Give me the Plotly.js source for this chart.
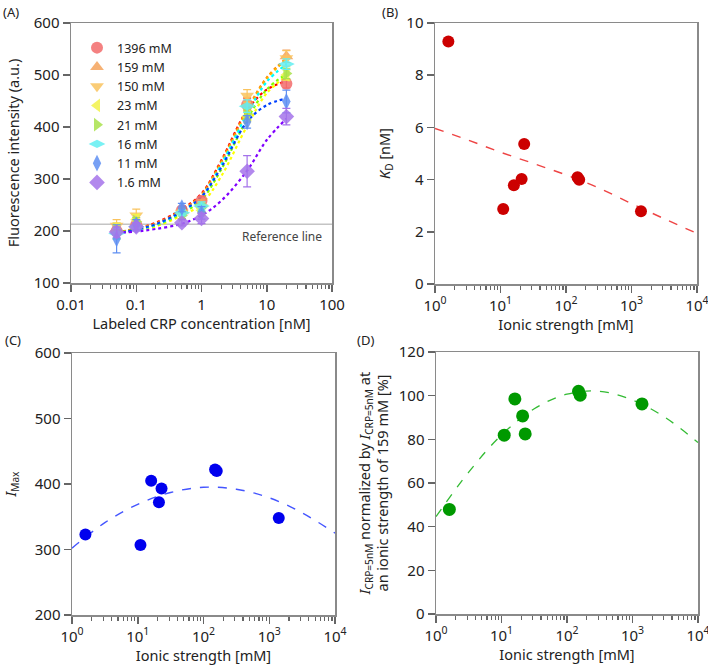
<!DOCTYPE html>
<html>
<head>
<meta charset="utf-8">
<script src="https://cdn.plot.ly/plotly-3.0.1.min.js"></script>
<style>html,body{margin:0;padding:0;background:#fff}#chart{width:708px;height:665px}</style>
</head>
<body>
<div id="chart"></div>
<script>
// ---------- Panel A data ----------
const conc = [0.05, 0.1, 0.5, 1, 5, 20];
const seriesNames = ['1396 mM', '159 mM', '150 mM', '23 mM', '21 mM', '16 mM', '11 mM', '1.6 mM'];
const fl1396 = [200, 212, 240, 258, 443, 483];
const fl159  = [205, 215, 238, 252, 445, 536];
const fl150  = [210, 230, 235, 245, 460, 532];
const fl23   = [200, 222, 232, 240, 420, 500];
const fl21   = [202, 218, 230, 245, 425, 503];
const fl16   = [195, 208, 235, 248, 440, 521];
const fl11   = [185, 212, 245, 235, 410, 449];
const fl1_6  = [198, 208, 216, 224, 315, 420];
const err1396 = [8, 6, 6, 8, 12, 8];
const err159  = [10, 8, 6, 8, 12, 12];
const err150  = [12, 12, 6, 10, 12, 15];
const err23   = [15, 10, 8, 10, 10, 10];
const err21   = [10, 8, 6, 8, 10, 10];
const err16   = [10, 8, 6, 8, 12, 10];
const err11   = [27, 10, 8, 12, 12, 22];
const err1_6  = [10, 8, 6, 10, 30, 16];
// fitted curves
const fitConc = [0.05, 0.1, 0.2, 0.5, 1, 2, 5, 10, 20];
const fit1396 = [197, 205, 216, 242, 272, 335, 432, 472, 488];
const fit159  = [196, 204, 214, 240, 270, 333, 433, 495, 532];
const fit150  = [196, 204, 214, 239, 268, 330, 430, 493, 530];
const fit23   = [196, 202, 209, 230, 252, 305, 402, 465, 498];
const fit21   = [196, 203, 211, 234, 260, 318, 415, 472, 502];
const fit16   = [195, 202, 212, 237, 266, 327, 425, 487, 521];
const fit11   = [195, 203, 213, 238, 266, 322, 410, 442, 455];
const fit1_6  = [196, 199, 204, 214, 230, 258, 316, 375, 416];
const refLevel = 213;

// ---------- Panels B, C, D data ----------
const ionic = [1.6, 11, 16, 21, 23, 150, 159, 1396];
const kd    = [9.29, 2.87, 3.78, 4.02, 5.36, 4.09, 3.99, 2.79];
const imax  = [323, 307, 405, 372, 393, 422, 420, 348];
const norm5 = [47.9, 81.9, 98.5, 90.7, 82.5, 102, 100.2, 96.2];
const fitIonic = [1, 3.16, 10, 31.6, 100, 316, 1000, 3162, 10000];
const kdFit    = [5.96, 5.52, 5.05, 4.62, 4.18, 3.68, 3.08, 2.5, 1.94];
const imaxFit  = [302, 341, 369, 387, 395, 392, 379, 356, 325];
const normFit  = [44.6, 65, 82, 94, 100.7, 102, 98, 90, 78.5];
// decade tick labels shown as powers of ten
const powerLabels = {'1': '10<sup>0</sup>', '10': '10<sup>1</sup>', '100': '10<sup>2</sup>', '1000': '10<sup>3</sup>', '10k': '10<sup>4</sup>'};

// ---------- styles ----------
const markerColors = ['#f26b6b', '#f5a35c', '#f9c35e', '#f2f24a', '#a9e24c', '#62eef2', '#5f8ff2', '#a473ea'];
const lineColors   = ['#ff0000', '#ff7f00', '#ffb000', '#ffff00', '#80ff00', '#00ffff', '#0040ff', '#8000ff'];
const symbols = ['circle', 'triangle-up', 'triangle-down', 'triangle-left', 'triangle-right', 'diamond-wide', 'diamond-tall', 'diamond'];
const flData = [fl1396, fl159, fl150, fl23, fl21, fl16, fl11, fl1_6];
const errData = [err1396, err159, err150, err23, err21, err16, err11, err1_6];
const fitData = [fit1396, fit159, fit150, fit23, fit21, fit16, fit11, fit1_6];

const FONT = 'Noto Sans, Open Sans, DejaVu Sans, sans-serif';
const AXC = '#666666';
const traces = [];
for (let i = 0; i < fitData.length; i++) {
  traces.push({x: fitConc, y: fitData[i], xaxis: 'x', yaxis: 'y', mode: 'lines', showlegend: false,
    line: {color: lineColors[i], width: 2.2, dash: 'dot', shape: 'spline'}, hoverinfo: 'skip'});
}
for (let i = 0; i < flData.length; i++) {
  traces.push({x: conc, y: flData[i], name: seriesNames[i], xaxis: 'x', yaxis: 'y', mode: 'markers',
    marker: {symbol: symbols[i], color: markerColors[i], size: 12, opacity: 0.85},
    error_y: {type: 'data', array: errData[i], color: markerColors[i], thickness: 1.2, width: 4}});
}
traces.push({x: fitIonic, y: kdFit, xaxis: 'x2', yaxis: 'y2', mode: 'lines', showlegend: false,
  line: {color: '#ee4444', width: 1.4, dash: 'dash', shape: 'spline'}});
traces.push({x: ionic, y: kd, xaxis: 'x2', yaxis: 'y2', mode: 'markers', showlegend: false,
  marker: {color: '#cc0000', size: 12}});
traces.push({x: fitIonic, y: imaxFit, xaxis: 'x3', yaxis: 'y3', mode: 'lines', showlegend: false,
  line: {color: '#4455ff', width: 1.4, dash: 'dash', shape: 'spline'}});
traces.push({x: ionic, y: imax, xaxis: 'x3', yaxis: 'y3', mode: 'markers', showlegend: false,
  marker: {color: '#0000ee', size: 12}});
traces.push({x: fitIonic, y: normFit, xaxis: 'x4', yaxis: 'y4', mode: 'lines', showlegend: false,
  line: {color: '#33bb33', width: 1.3, dash: 'dash', shape: 'spline'}});
traces.push({x: ionic, y: norm5, xaxis: 'x4', yaxis: 'y4', mode: 'markers', showlegend: false,
  marker: {color: '#009900', size: 13}});

const minorSpec = {ticks: 'outside', ticklen: 4, dtick: 'D1', tickcolor: AXC, tickwidth: 1.2, showgrid: false};

function baseAxis(extra) {
  return Object.assign({
    showline: true, linecolor: '#8a8a8a', linewidth: 1.5, mirror: true,
    ticks: 'outside', ticklen: 7, tickwidth: 1.5, tickcolor: AXC,
    showgrid: false, zeroline: false, ticklabeloverflow: 'allow',
    tickfont: {family: FONT, size: 15, color: '#222'}
  }, extra);
}
function titleObj(text, standoff) {
  return {text: text, font: {family: FONT, size: 14.5, color: '#222'}, standoff: standoff};
}
const W = 708, H = 665;
const px2x = (a, b) => [a / W, b / W];
const px2y = (top, bottom) => [1 - bottom / H, 1 - top / H];

const layout = {
  width: W, height: H,
  margin: {l: 0, r: 0, t: 0, b: 0},
  paper_bgcolor: '#fff', plot_bgcolor: '#fff',
  font: {family: FONT, color: '#222'},
  showlegend: true,
  legend: {x: 77 / W, y: 1 - 33 / H, xanchor: 'left', yanchor: 'top', bgcolor: 'rgba(0,0,0,0)',
    font: {family: FONT, size: 12.5, color: '#222'}, tracegroupgap: 0, itemwidth: 30},
  xaxis: baseAxis({type: 'log', range: [-2, 2], dtick: 1, domain: px2x(71, 332), anchor: 'y', minor: minorSpec,
    title: titleObj('Labeled CRP concentration [nM]', 6)}),
  yaxis: baseAxis({range: [100, 600], dtick: 100, domain: px2y(23, 283), anchor: 'x',
    title: titleObj('Fluorescence intensity (a.u.)', 10)}),
  xaxis2: baseAxis({type: 'log', range: [0, 4], dtick: 1, domain: px2x(435, 697), anchor: 'y2', minor: minorSpec,
    labelalias: powerLabels, title: titleObj('Ionic strength [mM]', 6)}),
  yaxis2: baseAxis({range: [0, 10], dtick: 2, domain: px2y(23, 284), anchor: 'x2',
    title: titleObj('<i>K</i><sub>D</sub> [nM]', 12)}),
  xaxis3: baseAxis({type: 'log', range: [0, 4], dtick: 1, domain: px2x(72, 335), anchor: 'y3', minor: minorSpec,
    labelalias: powerLabels, title: titleObj('Ionic strength [mM]', 2)}),
  yaxis3: baseAxis({range: [200, 600], dtick: 100, domain: px2y(353, 615), anchor: 'x3',
    title: titleObj('<i>I</i><sub>Max</sub>', 18)}),
  xaxis4: baseAxis({type: 'log', range: [0, 4], dtick: 1, domain: px2x(436, 698), anchor: 'y4', minor: minorSpec,
    labelalias: powerLabels, title: titleObj('Ionic strength [mM]', 4)}),
  yaxis4: baseAxis({range: [0, 120], dtick: 20, domain: px2y(352, 614), anchor: 'x4',
    title: titleObj('<i>I</i><sub>CRP=5nM</sub> normalized by <i>I</i><sub>CRP=5nM</sub> at<br>an ionic strength of 159 mM [%]', 6)}),
  shapes: [{type: 'line', xref: 'x domain', x0: 0, x1: 1, yref: 'y', y0: refLevel, y1: refLevel,
    line: {color: '#c4c4c4', width: 1.5}, layer: 'below'}],
  annotations: [
    {text: 'Reference line', xref: 'x domain', x: 0.97, xanchor: 'right', yref: 'y', y: refLevel - 4, yanchor: 'top',
      showarrow: false, font: {family: FONT, size: 12, color: '#444'}},
    {text: '(A)', xref: 'paper', yref: 'paper', x: 1 / W, y: 1 - 1 / H, xanchor: 'left', yanchor: 'top', showarrow: false, font: {family: FONT, size: 13, color: '#222'}},
    {text: '(B)', xref: 'paper', yref: 'paper', x: 380 / W, y: 1 - 1 / H, xanchor: 'left', yanchor: 'top', showarrow: false, font: {family: FONT, size: 13, color: '#222'}},
    {text: '(C)', xref: 'paper', yref: 'paper', x: 3 / W, y: 1 - 329 / H, xanchor: 'left', yanchor: 'top', showarrow: false, font: {family: FONT, size: 13, color: '#222'}},
    {text: '(D)', xref: 'paper', yref: 'paper', x: 355 / W, y: 1 - 329 / H, xanchor: 'left', yanchor: 'top', showarrow: false, font: {family: FONT, size: 13, color: '#222'}}
  ]
};

Plotly.newPlot('chart', traces, layout, {displayModeBar: false, staticPlot: true});
</script>
</body>
</html>
